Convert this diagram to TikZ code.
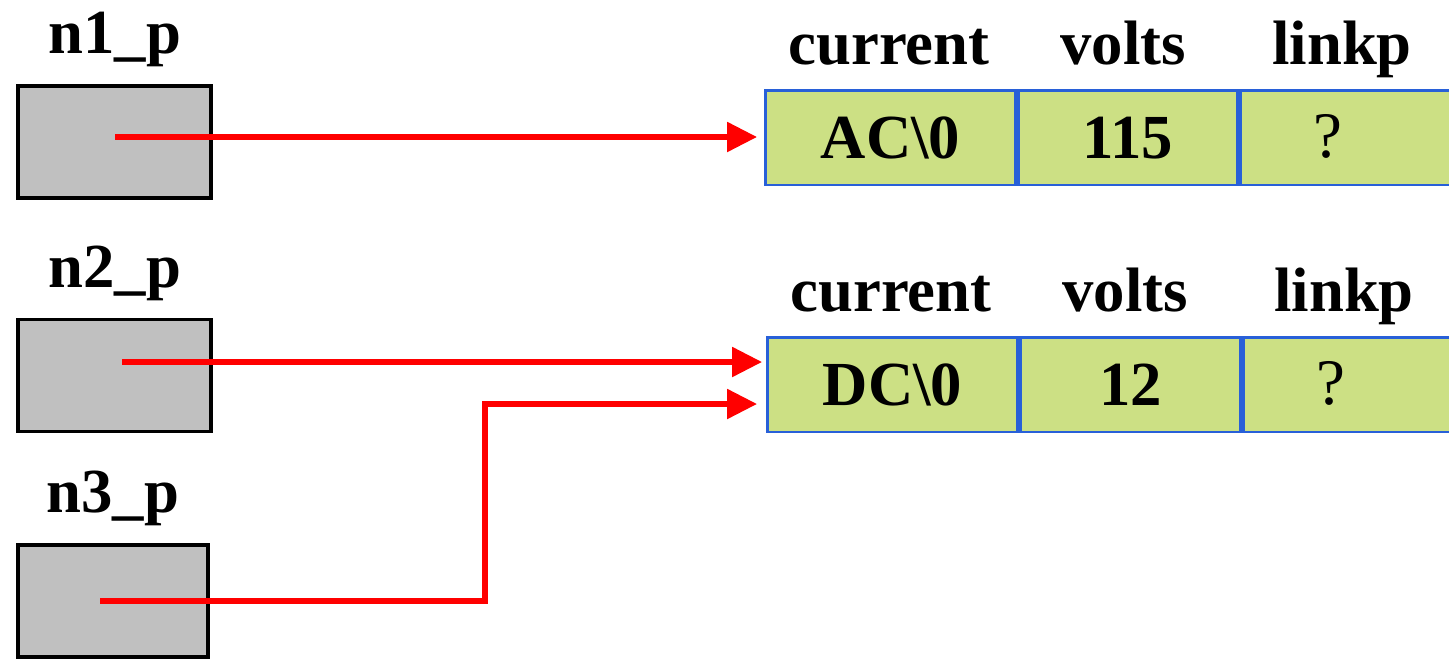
\documentclass[tikz,border=0pt]{standalone}
\usepackage{fontspec}
\setmainfont{Liberation Serif}
\usetikzlibrary{arrows.meta}

\definecolor{ptrgray}{RGB}{192,192,192}
\definecolor{cellgreen}{RGB}{204,224,132}
\definecolor{cellblue}{RGB}{40,96,216}

\tikzset{
  big/.style={font=\fontsize{35.7}{40}\selectfont\bfseries, inner sep=0pt},
  ptrbox/.style={draw=black, line width=2.2pt, fill=ptrgray, inner sep=0pt, minimum height=2.24cm},
  cell/.style={big, draw=cellblue, line width=1.7pt, fill=cellgreen, anchor=west,
    minimum height=1.9cm, text height=23.6pt, text depth=0pt},
  link/.style={draw=red, line width=3pt, -{Triangle[length=17pt,width=16.5pt]}}
}

\begin{document}
\begin{tikzpicture}[x=0.02cm, y=-0.02cm]

\clip (0,0) rectangle (1449,659);

%% the pointers
\node [ptrbox, minimum width=3.86cm] (p1) at (114.5,142) {};
\node [ptrbox, minimum width=3.86cm] (p2) at (114.5,375.5) {};
\node [ptrbox, minimum width=3.80cm] (p3) at (113,601) {};

\node [big, anchor=base] (n1) at (115,53)  {n1\_p};
\node [big, anchor=base] (n2) at (115,287) {n2\_p};
\node [big, anchor=base] (n3) at (113,512) {n3\_p};

%% first record
\node [cell, minimum width=5cm]    (a1) at (764,137.5) {AC\textbackslash0};
\node [cell, minimum width=4.38cm] (a2) at (a1.east)   {115};
\node [cell, minimum width=5cm]    (a3) at (a2.east)   {};
\node [big, anchor=base, font=\fontsize{37}{40}\selectfont] (aq) at (1328,157) {?};

\node [big, anchor=base] (ha1) at (889,64)  {current};
\node [big, anchor=base] (ha2) at (1123,64) {volts};
\node [big, anchor=base] (ha3) at (1342,64) {linkp};

%% second record
\node [cell, minimum width=5cm]   (b1) at (766,384.5) {DC\textbackslash0};
\node [cell, minimum width=4.4cm] (b2) at (b1.east)   {12};
\node [cell, minimum width=5cm]   (b3) at (b2.east)   {};
\node [big, anchor=base, font=\fontsize{37}{40}\selectfont] (bq) at (1331,404) {?};

\node [big, anchor=base] (hb1) at (891,311)  {current};
\node [big, anchor=base] (hb2) at (1125,311) {volts};
\node [big, anchor=base] (hb3) at (1344,311) {linkp};

%% the links
\coordinate (s1) at (115,137);
\coordinate (e1) at (757,137);
\coordinate (s2) at (122,362);
\coordinate (e2) at (762,362);
\coordinate (s3) at (100,601);
\coordinate (k3) at (485,404);
\coordinate (e3) at (757,404);

\draw [link] (s1) -- (e1);
\draw [link] (s2) -- (e2);
\draw [link] (s3) -| (k3) -- (e3);

\end{tikzpicture}
\end{document}
